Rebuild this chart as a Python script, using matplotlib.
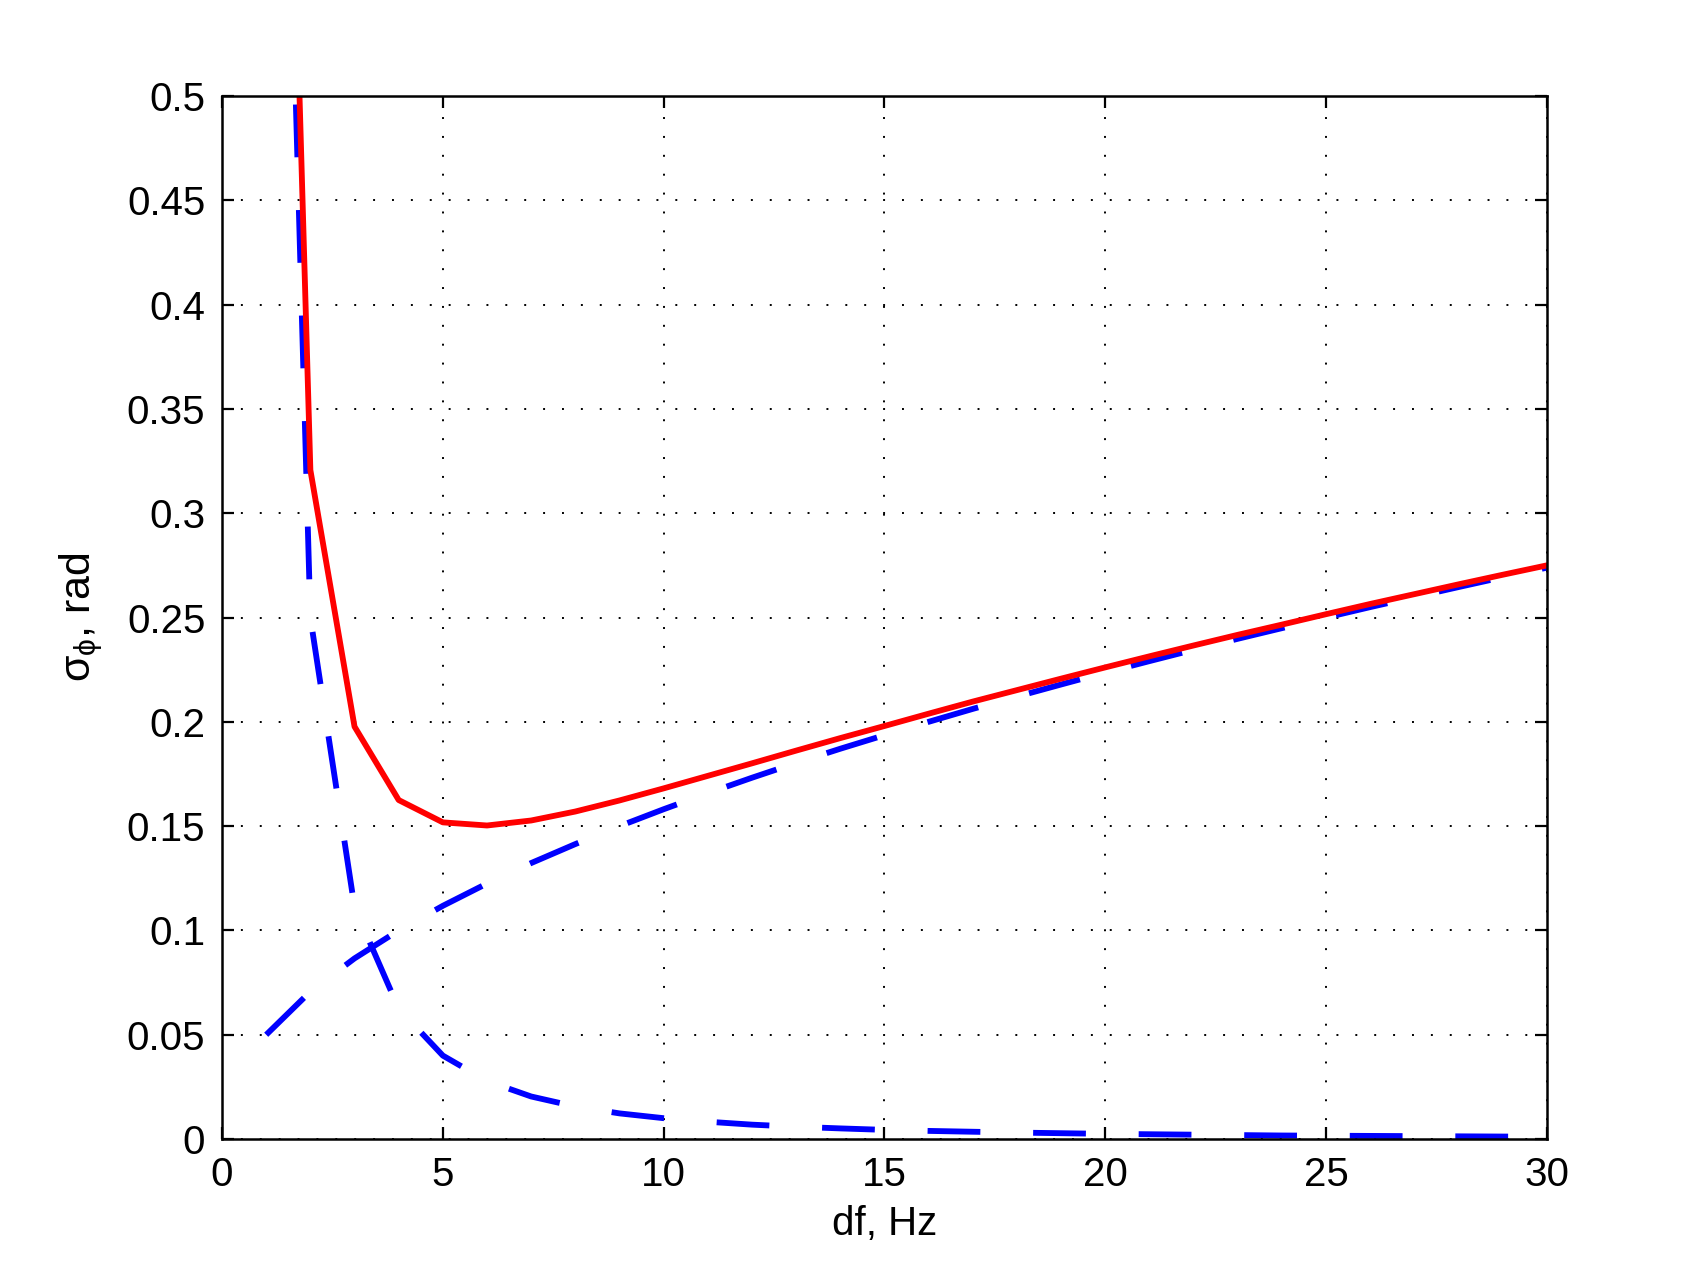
## Phase error vs frequency step
## two error terms (dashed) and their sum (solid)

import numpy as np
import matplotlib
matplotlib.use('Agg')
import matplotlib.pyplot as plt

## Values, df = 1..30 Hz
df_hz = list(range(1, 31))
noise_term = [1.0, 0.25, 0.1111, 0.0625, 0.04, 0.0278, 0.0204, 0.0156, 0.0123, 0.01,
    0.0083, 0.0069, 0.0059, 0.0051, 0.0044, 0.0039, 0.0035, 0.0031, 0.0028, 0.0025,
    0.0023, 0.0021, 0.0019, 0.0017, 0.0016, 0.0015, 0.0014, 0.0013, 0.0012, 0.0011]
drift_term = [0.05, 0.0707, 0.0866, 0.1, 0.1118, 0.1225, 0.1323, 0.1414, 0.15, 0.1581,
    0.1658, 0.1732, 0.1803, 0.1871, 0.1936, 0.2, 0.2062, 0.2121, 0.2179, 0.2236,
    0.2291, 0.2345, 0.2398, 0.2449, 0.25, 0.255, 0.2598, 0.2646, 0.2693, 0.2739]
total_err = [1.05, 0.3207, 0.1977, 0.1625, 0.1518, 0.1503, 0.1527, 0.157, 0.1623, 0.1681,
    0.1741, 0.1801, 0.1862, 0.1922, 0.198, 0.2039, 0.2097, 0.2152, 0.2207, 0.2261,
    0.2314, 0.2366, 0.2417, 0.2466, 0.2516, 0.2565, 0.2612, 0.2659, 0.2705, 0.275]

x_ticks = [0, 5, 10, 15, 20, 25, 30]
y_ticks = [0, 0.05, 0.1, 0.15, 0.2, 0.25, 0.3, 0.35, 0.4, 0.45, 0.5]
y_tick_labels = ['0', '0.05', '0.1', '0.15', '0.2', '0.25', '0.3', '0.35', '0.4', '0.45', '0.5']

## Style
plt.rcParams['font.family'] = ['Liberation Sans', 'DejaVu Sans']
plt.rcParams['mathtext.fontset'] = 'custom'
plt.rcParams['mathtext.rm'] = 'Liberation Sans'
plt.rcParams['mathtext.it'] = 'Liberation Sans'
plt.rcParams['lines.scale_dashes'] = False

fig = plt.figure(figsize=(8.54, 6.415), dpi=200)
ax = fig.add_axes([0.13, 0.1122, 0.7757, 0.813])

dash = (0, (19, 19))
ax.plot(df_hz, noise_term, color='#0000ff', lw=2.1, linestyle=dash)
ax.plot(df_hz, drift_term, color='#0000ff', lw=2.1, linestyle=dash)
ax.plot(df_hz, total_err, color='#ff0000', lw=2.1)

ax.set_xlim(0, 30)
ax.set_ylim(0, 0.5)
ax.set_xticks(x_ticks)
ax.set_yticks(y_ticks)
ax.set_yticklabels(y_tick_labels)

ax.grid(True, color='black', lw=0.7, linestyle=(0, (0.7, 6.1)))
ax.tick_params(direction='in', length=4.4, width=0.8, labelsize=14.5,
    top=True, right=True, pad=6)
for sp in ax.spines.values():
    sp.set_linewidth(0.9)

ax.set_xlabel('df, Hz', fontsize=14.5, labelpad=4)
ax.set_ylabel(r'$\sigma_{\phi}$, rad', fontsize=15.5, labelpad=8)

fig.savefig('out.png', dpi=200)
